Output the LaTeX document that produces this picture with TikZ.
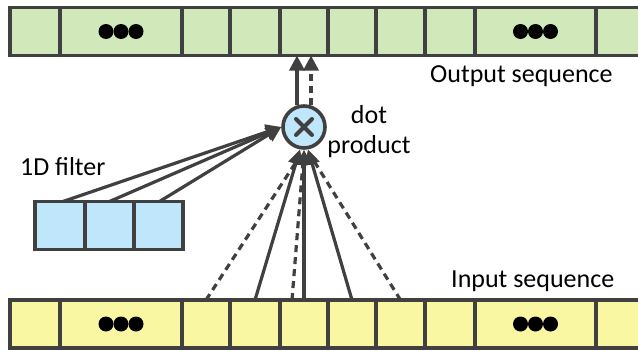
\documentclass[tikz,border=0pt]{standalone}
\usepackage{fontspec}
\setmainfont{Carlito}
\usetikzlibrary{arrows.meta}
\definecolor{ink}{HTML}{404040}
\definecolor{outgreen}{HTML}{D0E8BA}
\definecolor{inyellow}{HTML}{F9F7A2}
\definecolor{filtblue}{HTML}{BFE6FA}
\begin{document}
\begin{tikzpicture}[x=1pt,y=-1pt,
  cell/.style={draw=ink, line width=3.6pt, minimum height=48pt, inner sep=0pt, outer sep=0pt},
  outcell/.style={cell, fill=outgreen},
  incell/.style={cell, fill=inyellow},
  filtcell/.style={cell, fill=filtblue},
  link/.style={draw=ink, line width=3.2pt},
  arr/.style={link, -{Triangle[length=15pt,width=15pt]}},
  dashlink/.style={link, dash pattern=on 7pt off 5pt},
  txt/.style={font=\fontsize{26}{30}\selectfont, inner sep=0pt, text=black}
]
\useasboundingbox (0,0) rectangle (638,351);
\clip (0,0) rectangle (638,351);

% output sequence (top bar)
\foreach \l/\r/\n in {10/60/1, 60/182/2, 182/230/3, 230/280/4, 280/328/5,
                      328/376/6, 376/425/7, 425/475/8, 475/596/9, 596/646/10}
  \node[outcell, minimum width={(\r-\l)*1pt}] (o\n) at ({(\l+\r)/2},31.5) {};

% input sequence (bottom bar)
\foreach \l/\r/\n in {10/60/1, 60/182/2, 182/230/3, 230/280/4, 280/328/5,
                      328/376/6, 376/425/7, 425/475/8, 475/596/9, 596/646/10}
  \node[incell, minimum width={(\r-\l)*1pt}] (i\n) at ({(\l+\r)/2},324) {};

% ellipsis dots
\foreach \c in {o2, o9, i2, i9}
  \foreach \dx in {-15,0,15}
    \fill[black] ([xshift=\dx pt]\c.center) circle (7.5pt);

% 1D filter
\foreach \l/\r/\n in {35/85/1, 85/134/2, 134/183/3}
  \node[filtcell, minimum width={(\r-\l)*1pt}] (f\n) at ({(\l+\r)/2},225.5) {};

% dot product
\node[circle, draw=ink, line width=3.6pt, fill=filtblue, minimum size=42pt, inner sep=0pt] (dot) at (304,127) {};
\draw[ink, line width=4pt, line cap=round]
  ([shift={(-8pt,-8pt)}]dot.center) -- ([shift={(8pt,8pt)}]dot.center)
  ([shift={(-8pt,8pt)}]dot.center) -- ([shift={(8pt,-8pt)}]dot.center);

% filter to dot product
\draw[arr] ([xshift=3pt]f1.north) -- (dot.west);
\draw[arr] (f2.north) -- (dot.west);
\draw[arr] ([xshift=1pt]f3.north) -- (dot.west);

% input window to dot product
\draw[dashlink, shorten >=14pt] (i3.north) -- (dot.south);
\draw[dashlink, shorten >=15pt] ([xshift=-12pt]i5.north) -- (dot.south);
\draw[dashlink, shorten >=14pt] (i7.north) -- ([xshift=3pt]dot.south);
\draw[arr] (i4.north) -- (dot.-100);
\draw[arr] (i5.north) -- (dot.south);
\draw[arr] (i6.north) -- (dot.-80);

% dot product to output
\draw[arr] (dot.108) -- (dot.108 |- o5.south);
\draw[arr, dash pattern=on 7pt off 5pt] (dot.72) -- (dot.72 |- o5.south);

% labels
\node[txt, anchor=base west] (outlabel) at (430,82) {Output sequence};
\node[txt, anchor=base west] (inlabel) at (451,287) {Input sequence};
\node[txt, anchor=base west] (filtlabel) at (20,175) {1D filter};
\node[txt, anchor=base] (dotlabel) at (369,123)
  {\begin{tabular}[t]{@{}c@{}}dot\\product\end{tabular}};
\end{tikzpicture}
\end{document}
